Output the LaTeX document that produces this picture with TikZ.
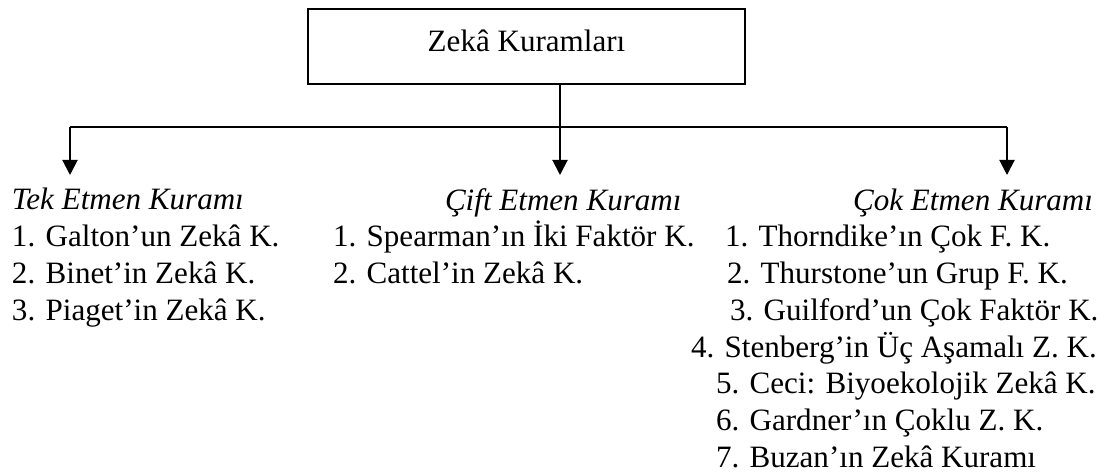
\documentclass[tikz,border=0pt]{standalone}
\usepackage{fontspec}
\setmainfont{Liberation Serif}
\usetikzlibrary{arrows.meta}
\begin{document}
\begin{tikzpicture}[x=0.75pt,y=-0.75pt,
  every node/.style={inner sep=0pt,outer sep=0pt},
  txt/.style={anchor=base west,font=\fontsize{23.3}{28}\selectfont},
  head/.style={txt,font=\fontsize{23.3}{28}\selectfont\itshape},
  rootbox/.style={draw,line width=1.6pt,minimum width=327.75pt,minimum height=56.25pt,
    text height=15pt,text depth=6.75pt,font=\fontsize{23.3}{28}\selectfont},
  link/.style={line width=1.5pt},
  arr/.style={link,-{Triangle[width=11.25pt,length=11.25pt]}}]
\useasboundingbox (0,0) rectangle (1113,473);

% top box
\node[rootbox] (root) at (526.5,46.5) {Zekâ Kuramları};

% branching points of the tree
\coordinate (j)  at (560,127);
\coordinate (cL) at (70,127);
\coordinate (cR) at (1007,127);
\coordinate (tL) at (70,175);
\coordinate (tM) at (560,175);
\coordinate (tR) at (1007,175);

\draw[link] (root.south -| j) -- (j);
\draw[link] (cL) -- (cR);
\draw[arr] (cL) -- (tL);
\draw[arr] (j) -- (tM);
\draw[arr] (cR) -- (tR);

% single factor theories
\node[head] (h1) at (12,210) {Tek Etmen Kuramı};
\node[txt] (a1) at (12,247) {1. Galton’un Zekâ K.};
\node[txt] (a2) at (12,284) {2. Binet’in Zekâ K.};
\node[txt] (a3) at (12,321) {3. Piaget’in Zekâ K.};

% two factor theories
\node[head] (h2) at (445,211) {Çift Etmen Kuramı};
\node[txt] (b1) at (333,247) {1. Spearman’ın İki Faktör K.};
\node[txt] (b2) at (333,284) {2. Cattel’in Zekâ K.};

% multi factor theories
\node[head,anchor=base east] (h3) at (1093,211) {Çok Etmen Kuramı};
\node[txt] (c1) at (725,247) {1. Thorndike’ın Çok F. K.};
\node[txt] (c2) at (727,283.7) {2. Thurstone’un Grup F. K.};
\node[txt] (c3) at (730,320.4) {3. Guilford’un Çok Faktör K.};
\node[txt] (c4) at (691,357.1) {4. Stenberg’in Üç Aşamalı Z. K.};
\node[txt] (c5) at (716,393.8) {5. Ceci: Biyoekolojik Zekâ K.};
\node[txt] (c6) at (716,430.5) {6. Gardner’ın Çoklu Z. K.};
\node[txt] (c7) at (716,467.2) {7. Buzan’ın Zekâ Kuramı};
\end{tikzpicture}
\end{document}
